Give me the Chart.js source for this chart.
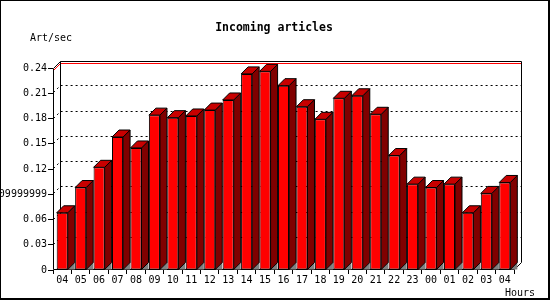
<!DOCTYPE html>
<html>
<head>
<meta charset="utf-8">
<script src="https://cdn.jsdelivr.net/npm/chart.js@4.4.0/dist/chart.umd.min.js"></script>
<style>
  body { margin: 0; background: #fff; }
  #wrap { width: 550px; height: 300px; }
</style>
</head>
<body>
<div id="wrap"><canvas id="chart" width="550" height="300"></canvas></div>
<script>
// data
const hours = ['04', '05', '06', '07', '08', '09', '10', '11', '12', '13', '14', '15', '16',
               '17', '18', '19', '20', '21', '22', '23', '00', '01', '02', '03', '04'];
const artPerSec = [0.068, 0.098, 0.122, 0.158, 0.145, 0.184, 0.181, 0.183, 0.190, 0.202, 0.233, 0.236, 0.219,
                   0.194, 0.179, 0.204, 0.207, 0.185, 0.136, 0.102, 0.098, 0.102, 0.068, 0.091, 0.104];
const yTickLabels = ['0', '0.03', '0.06', '0.09999999', '0.12', '0.15', '0.18', '0.21', '0.24'];

const DEPTH = 7;
const MONO = "'DejaVu Sans Mono', 'Liberation Mono', monospace";

// back wall, dotted grid, max line and front axes
const frame3d = {
    id: 'frame3d',
    beforeDatasetsDraw(chart) {
        const { ctx, chartArea: a, scales: { y } } = chart;
        const L = a.left + 0.5, R = a.right + 0.5, T = a.top + 0.5, B = a.bottom - 0.5;
        ctx.save();
        ctx.lineWidth = 1;

        // dotted grid lines on the back wall
        ctx.strokeStyle = '#000';
        ctx.setLineDash([2, 3]);
        y.ticks.forEach(t => {
            if (t.value <= 0 || t.value >= y.max) return;
            const yy = Math.round(y.getPixelForValue(t.value)) - 0.5;
            ctx.beginPath();
            ctx.moveTo(L, yy);
            ctx.lineTo(L + DEPTH, yy - DEPTH);
            ctx.lineTo(R + DEPTH, yy - DEPTH);
            ctx.stroke();
        });
        ctx.setLineDash([]);

        // red line at the maximum value
        const ym = Math.round(y.getPixelForValue(Math.max(...artPerSec))) - 0.5;
        ctx.strokeStyle = '#ff0000';
        ctx.beginPath();
        ctx.moveTo(L, ym);
        ctx.lineTo(L + DEPTH, ym - DEPTH);
        ctx.lineTo(R + DEPTH, ym - DEPTH);
        ctx.stroke();

        // back wall outline + front axes
        ctx.strokeStyle = '#000';
        ctx.beginPath();
        ctx.moveTo(L + DEPTH, B - DEPTH);
        ctx.lineTo(L + DEPTH, T - DEPTH);
        ctx.lineTo(R + DEPTH, T - DEPTH);
        ctx.lineTo(R + DEPTH, B - DEPTH);
        ctx.lineTo(R, B);
        ctx.moveTo(L, T);
        ctx.lineTo(L + DEPTH, T - DEPTH);
        ctx.moveTo(L, T);
        ctx.lineTo(L, B);
        ctx.lineTo(R, B);
        ctx.stroke();
        ctx.restore();
    },

    // top and side faces of every bar
    afterDatasetsDraw(chart) {
        const ctx = chart.ctx;
        const meta = chart.getDatasetMeta(0);
        ctx.save();
        ctx.lineWidth = 1;
        ctx.strokeStyle = '#000';
        meta.data.forEach(bar => {
            const { x, y, base, width } = bar.getProps(['x', 'y', 'base', 'width'], true);
            const l = x - width / 2, r = x + width / 2;

            // floor shadow
            ctx.fillStyle = '#808080';
            ctx.beginPath();
            ctx.moveTo(r, base);
            ctx.lineTo(r + DEPTH, base - DEPTH);
            ctx.lineTo(r + DEPTH, base);
            ctx.closePath();
            ctx.fill();

            // side
            ctx.fillStyle = '#800000';
            ctx.beginPath();
            ctx.moveTo(r, y);
            ctx.lineTo(r + DEPTH, y - DEPTH);
            ctx.lineTo(r + DEPTH, base - DEPTH);
            ctx.lineTo(r, base);
            ctx.closePath();
            ctx.fill();
            ctx.stroke();

            // top
            ctx.fillStyle = '#c80000';
            ctx.beginPath();
            ctx.moveTo(l, y);
            ctx.lineTo(l + DEPTH, y - DEPTH);
            ctx.lineTo(r + DEPTH, y - DEPTH);
            ctx.lineTo(r, y);
            ctx.closePath();
            ctx.fill();
            ctx.stroke();
        });
        ctx.restore();
    },

    // titles and outer border
    afterDraw(chart) {
        const ctx = chart.ctx;
        ctx.save();
        ctx.fillStyle = '#000';
        ctx.textBaseline = 'alphabetic';
        ctx.font = 'bold 11.5px ' + MONO;
        ctx.textAlign = 'center';
        ctx.fillText('Incoming articles', 274, 31);
        ctx.font = '10px ' + MONO;
        ctx.textAlign = 'left';
        ctx.fillText('Art/sec', 30, 41);
        ctx.fillText('Hours', 505, 296);

        ctx.strokeStyle = '#000';
        ctx.lineWidth = 1;
        ctx.strokeRect(0.5, 0.5, 548, 298);
        ctx.beginPath();
        ctx.moveTo(549.5, 0);
        ctx.lineTo(549.5, 300);
        ctx.moveTo(0, 299.5);
        ctx.lineTo(550, 299.5);
        ctx.stroke();
        ctx.restore();
    }
};

Chart.defaults.font.family = MONO;
Chart.defaults.font.size = 10;
Chart.defaults.color = '#000';

new Chart(document.getElementById('chart').getContext('2d'), {
    type: 'bar',
    data: {
        labels: hours,
        datasets: [{
            label: 'Art/sec',
            data: artPerSec,
            backgroundColor: '#ff0000',
            borderColor: '#000',
            borderWidth: 1,
            borderSkipped: false,
            barPercentage: 0.6,
            categoryPercentage: 1.0
        }]
    },
    options: {
        responsive: false,
        animation: false,
        layout: { padding: { top: 68, right: 36, left: 0, bottom: 0 } },
        plugins: {
            legend: { display: false },
            tooltip: { enabled: false },
            title: { display: false }
        },
        scales: {
            x: {
                afterFit(scale) { scale.height = 30; },
                border: { display: false },
                grid: { drawOnChartArea: false, tickLength: 4, color: '#000', offset: true },
                ticks: { autoSkip: false, maxRotation: 0, padding: 0, color: '#000' }
            },
            y: {
                min: 0,
                max: 0.24,
                afterFit(scale) { scale.width = 53; },
                border: { display: false },
                grid: { drawOnChartArea: false, tickLength: 5, color: '#000' },
                ticks: {
                    stepSize: 0.03,
                    padding: 1,
                    color: '#000',
                    callback: (value, index) => yTickLabels[index]
                }
            }
        }
    },
    plugins: [frame3d]
});
</script>
</body>
</html>
